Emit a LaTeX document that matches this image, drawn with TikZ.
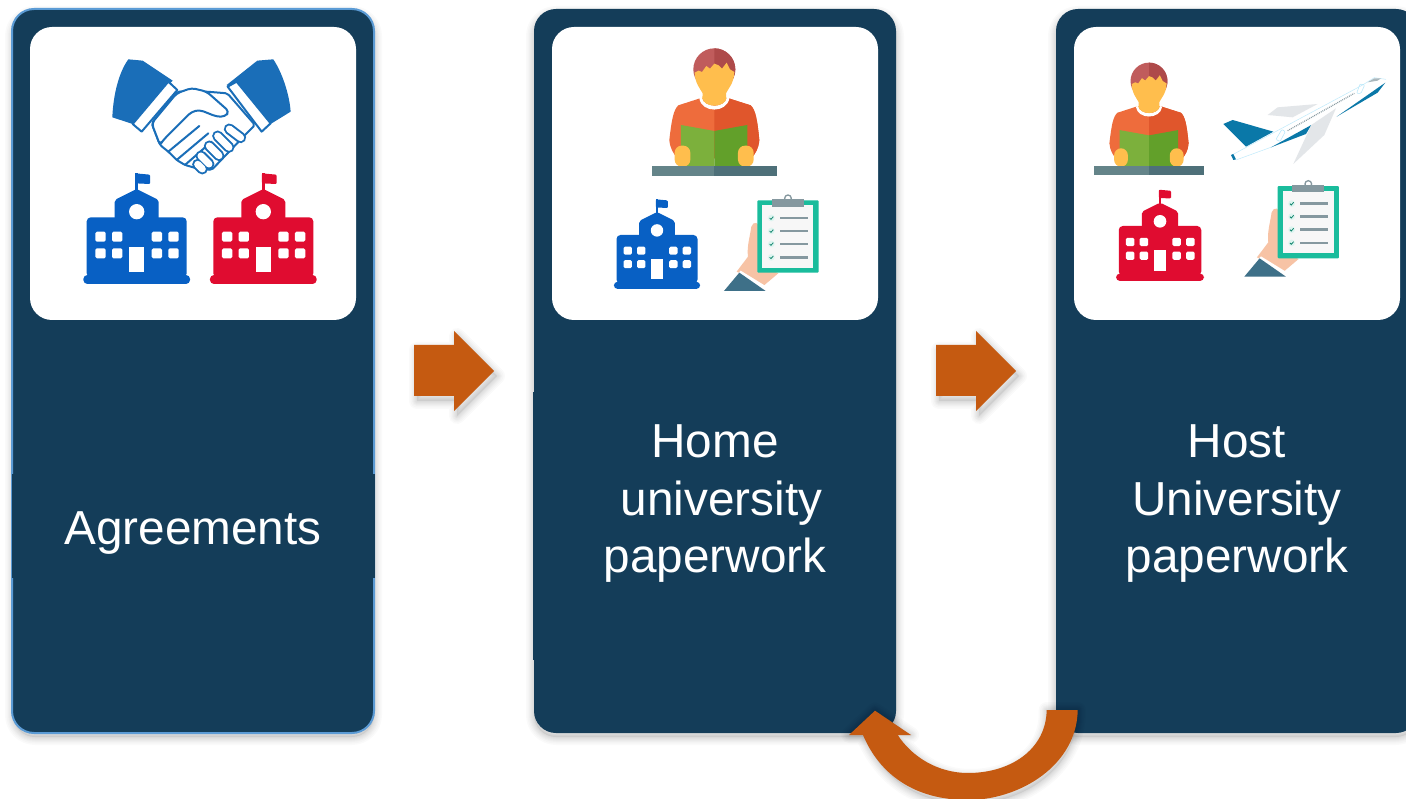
\documentclass[tikz,border=0pt]{standalone}
\usepackage{fontspec}
\setmainfont{Liberation Sans}
\definecolor{navy}{HTML}{143D59}
\definecolor{rust}{HTML}{C55A11}
\definecolor{edge}{HTML}{5B9BD5}
\definecolor{shakeblue}{HTML}{1A6EB8}
\definecolor{schoolblue}{HTML}{0860C4}
\definecolor{schoolred}{HTML}{E00C30}
\definecolor{hairA}{HTML}{C05C5C}
\definecolor{hairB}{HTML}{AE4A4A}
\definecolor{skin}{HTML}{FFBE4D}
\definecolor{shirtA}{HTML}{EE6C3C}
\definecolor{shirtB}{HTML}{E0562C}
\definecolor{bookA}{HTML}{7CB03C}
\definecolor{bookB}{HTML}{62A02A}
\definecolor{deskA}{HTML}{648489}
\definecolor{deskB}{HTML}{4E7079}
\definecolor{teal}{HTML}{1ABC9C}
\definecolor{slate}{HTML}{85989F}
\definecolor{peach}{HTML}{F7C3A5}
\definecolor{sleeve}{HTML}{3E7088}
\definecolor{planeblue}{HTML}{0A78A8}
\definecolor{wing}{HTML}{E3E6E9}
% soft shadow: #1 offset, #2 opacity per layer, #3 path
\newcommand{\softshadow}[3]{%
  \begin{scope}[shift={#1}]
  \fill[black,fill opacity=.06] #3;
  \foreach \w in {16,13,10,8,6,4,2}{%
    \draw[black,draw opacity=#2,line width=\w pt,line join=round] #3;}
  \end{scope}}
\tikzset{
  x=1pt,y=-1pt,
  card/.style={rectangle,rounded corners=22pt,fill=navy,minimum width=362pt,minimum height=724pt,inner sep=0pt},
  panel/.style={rectangle,rounded corners=22pt,fill=white,minimum width=326pt,minimum height=293pt,inner sep=0pt},
  textband/.style={rectangle,fill=navy,inner sep=0pt,minimum width=363pt},
  textlabel/.style={text=white,inner sep=0pt,align=center,font=\fontsize{47.7pt}{57.5pt}\selectfont},
  pics/school/.style={code={
    \fill[#1,rounded corners=4pt] (-150,-20) -- (-150,-200) -- (150,-200) -- (150,-20) -- cycle;
    \fill[#1,rounded corners=2pt] (-66,-190) -- (-66,-252) -- (0,-285) -- (66,-252) -- (66,-190) -- cycle;
    \fill[#1,rounded corners=4pt] (-160,-27) rectangle (160,0);
    \fill[#1] (-4,-275) rectangle (4,-332);
    \fill[#1,rounded corners=1pt] (-4,-332) -- (40,-328) -- (40,-300) -- (-4,-302) -- cycle;
    \fill[white] (0,-217) circle (23);
    \foreach \wx in {-124,-74,45,95}{\foreach \wy in {-157,-107}{
      \fill[white,rounded corners=1.5pt] (\wx,\wy) rectangle ++(31,30);}}
    \fill[white] (-22,-112) rectangle (22,-37);
  }},
  pics/reader/.style={code={
    \fill[hairA] (373,118) circle (63);
    \begin{scope}\clip (373,40) rectangle (450,200); \fill[hairB] (373,118) circle (63);\end{scope}
    \fill[skin] (314,128) -- (326,122) -- (336,126) -- (349,108) -- (360,116) -- (373,101) -- (386,106) -- (396,116) -- (410,98) -- (420,118) -- (433,126)
      .. controls (432,160) and (415,175) .. (408,190) -- (410,225) -- (336,225) -- (338,190) .. controls (330,175) and (315,160) .. (314,128) -- cycle;
    \fill[shirtA] (330,205) -- (265,226) .. controls (250,240) and (245,270) .. (238,330) .. controls (240,355) and (250,370) .. (262,385) -- (484,385)
      .. controls (497,370) and (506,355) .. (508,330) .. controls (502,270) and (497,240) .. (482,226) -- (416,205) -- cycle;
    \begin{scope}\clip (373,190) rectangle (520,400);
      \fill[shirtB] (330,205) -- (265,226) -- (238,330) -- (262,385) -- (484,385)
      .. controls (497,370) and (506,355) .. (508,330) .. controls (502,270) and (497,240) .. (482,226) -- (416,205) -- cycle;
    \end{scope}
    \fill[white] (328,205) .. controls (335,250) and (411,250) .. (418,205) -- (410,203) .. controls (405,235) and (342,235) .. (336,203) -- cycle;
    \fill[skin] (336,203) .. controls (342,235) and (405,235) .. (410,203) -- cycle;
    \fill[bookA] (273,285) -- (373,303) -- (373,408) -- (273,408) -- cycle;
    \fill[bookB] (472,285) -- (373,303) -- (373,408) -- (472,408) -- cycle;
    \fill[skin,rounded corners=7pt] (254,347) rectangle (301,410);
    \fill[skin,rounded corners=7pt] (444,347) rectangle (491,410);
    \fill[deskA] (185,408) rectangle (373,438);
    \fill[deskB] (373,408) rectangle (560,438);
  }},
  pics/clipboard/.style={code={
    \fill[peach] (484,590) .. controls (490,572) and (510,575) .. (508,600) -- (505,700) -- (565,730) -- (520,768) -- (440,725) -- (474,680) .. controls (470,650) and (480,620) .. (484,590) -- cycle;
    \fill[white] (452,722) -- (530,770) -- (527,783) -- (440,735) -- cycle;
    \fill[sleeve] (402,783) -- (448,728) -- (527,783) -- cycle;
    \fill[teal,rounded corners=1pt] (502,511) rectangle (686,728);
    \fill[black!3] (517,525) rectangle (670,713);
    \draw[slate,line width=1.3pt] (594,505) circle (10);
    \fill[slate] (546,508) rectangle (642,530);
    \foreach \cy in {564,603,642,682}{
      \fill[teal!15] (544,\cy) circle (10);
      \draw[teal!70!black,line width=.8pt] (539,\cy) -- (543,\cy+4) -- (550,\cy-4);
      \fill[slate] (570,\cy-4) rectangle (654,\cy+4);}
  }},
  pics/plane/.style={code={
    \fill[wing] (575,255) -- (605,232) -- (725,222) -- (650,262) -- cycle;
    \fill[planeblue] (442,282) -- (470,270) -- (592,305) -- (510,350) -- cycle;
    \fill[white] (468,375) -- (860,165) -- (895,143) -- (930,148) -- (920,172) -- (780,258) -- (480,390) -- cycle;
    \draw[cyan!25,line width=.5pt] (468,375) -- (860,165) -- (895,143) -- (930,148);
    \draw[cyan!25,line width=.5pt] (480,390) -- (590,350);
    \fill[planeblue] (585,352) -- (706,285) -- (690,312) -- cycle;
    \fill[planeblue] (782,260) -- (928,158) -- (905,188) -- cycle;
    \fill[wing] (780,235) -- (706,285) -- (652,402) -- (745,315) -- cycle;
    \fill[planeblue] (465,375) -- (472,372) -- (480,388) -- (472,390) -- cycle;
    \fill[slate!70] (875,157) -- (895,145) -- (915,145) -- (905,152) -- cycle;
    \draw[slate,line width=1.2pt,dash pattern=on .9pt off 1pt] (635,302) -- (835,190);
    \draw[cyan!30,line width=.5pt,rounded corners=1pt] (600,328) -- (618,298) -- (628,305) -- (612,335) -- cycle;
    \draw[cyan!30,line width=.5pt,rounded corners=1pt] (842,190) -- (852,162) -- (866,165) -- (855,190) -- cycle;
  }},
  hs/.style={draw=shakeblue,fill=white,line width=2pt,line join=round},
  pics/handshake/.style={code={
    \fill[shakeblue] (205,88) -- (248,92) -- (338,152) -- (218,282) -- (157,262) .. controls (160,190) and (178,125) .. (205,88) -- cycle;
    \fill[shakeblue] (592,92) -- (640,88) .. controls (665,125) and (688,190) .. (692,245) -- (632,282) -- (500,165) -- cycle;
    % whole clasp
    \draw[hs,rounded corners=2pt] (352,185) -- (440,185) -- (502,190) -- (585,285) -- (560,310) -- (455,420) -- (410,415) -- (375,405) -- (350,390) -- (325,365) -- (300,345) -- (275,280) -- cycle;
    % long fingers
    \draw[shakeblue,line width=2pt,line cap=round] (325,365) -- (418,288) (350,390) -- (445,310) (375,405) -- (455,335);
    % short fingers
    \draw[shakeblue,line width=11pt,line cap=round] (508,297) -- (542,323) (473,318) -- (507,352) (448,348) -- (477,377) (423,378) -- (447,402) (413,403) -- (427,417);
    \draw[white,line width=7pt,line cap=round] (508,297) -- (542,323) (473,318) -- (507,352) (448,348) -- (477,377) (423,378) -- (447,402) (413,403) -- (427,417);
    % upper hand
    \draw[hs,rounded corners=4pt] (350,190) -- (395,174) -- (440,185) -- (508,245) -- (495,260) -- (470,260) -- (420,240) -- (395,245) -- (310,330) -- (300,345) -- (275,280) -- cycle;
    \draw[hs] (218,282) -- (325,155) -- (352,180) -- (245,305) -- cycle;
    \draw[hs] (503,170) -- (530,155) -- (632,280) -- (605,305) -- cycle;
  }},
  pics/blockarrow/.style={code={
    \fill[rust] (0,-26) -- (40,-26) -- (40,-40) -- (80,0) -- (40,40) -- (40,25) -- (0,25) -- cycle;
  }},
}
\begin{document}
\begin{tikzpicture}
\useasboundingbox (0,0) rectangle (1406,799);
\clip (0,0) rectangle (1406,799);
\fill[white] (0,0) rectangle (1406,799);
% card shadows
\softshadow{(0,4)}{.02}{[rounded corners=22pt] (13,10) rectangle (374,733)}
\softshadow{(0,4)}{.02}{[rounded corners=22pt] (534,10) rectangle (896,733)}
\softshadow{(0,4)}{.02}{[rounded corners=22pt] (1056,10) rectangle (1418,733)}
% cards
\node[card,draw=edge,line width=2pt] (card1) at (193,371) {};
\node[card] (card2) at (715,371) {};
\node[card] (card3) at (1237,371) {};
% picture panels
\node[panel] (panel1) at (193,173.5) {};
\node[panel] (panel2) at (715,173.5) {};
\node[panel] (panel3) at (1237,173.5) {};
% text bands
\node[textband,minimum height=104pt] (band1) at (193,526) {};
\node[textband,minimum height=268pt] (band2) at (714.5,526) {};
\node[textband,minimum height=268pt] (band3) at (1237,526) {};
% labels
\node[textlabel] (text1) at (193,533) {Agreements};
\node[textlabel] (text2) at (715,504) {Home\\\hspace*{13pt}university\\paperwork};
\node[textlabel] (text3) at (1237,504) {Host\\University\\paperwork};
% icons
\pic (shake) at (60,30) [scale=.3333] {handshake};
\pic (schoolA) at (136.7,284) [scale=.3333] {school=schoolblue};
\pic (schoolB) at (263.3,284) [scale=.3333] {school=schoolred};
\pic (readerA) at (590,30) [scale=.3333] {reader};
\pic (schoolC) at (657,289) [scale=.27] {school=schoolblue};
\pic (clipA) at (590,30) [scale=.3333] {clipboard};
\pic (readerB) at (1039.6,46.5) [scale=.2933] {reader};
\pic (planeA) at (1076,30) [scale=.3333] {plane};
\pic (schoolD) at (1160,281) [scale=.275] {school=schoolred};
\pic (clipB) at (1110.3,15.7) [scale=.3333] {clipboard};
% flow arrows
\softshadow{(3,5)}{.018}{(414,345) -- (454,345) -- (454,331) -- (494,371) -- (454,411) -- (454,396) -- (414,396) -- cycle}
\softshadow{(3,5)}{.018}{(936,345) -- (976,345) -- (976,331) -- (1016,371) -- (976,411) -- (976,396) -- (936,396) -- cycle}
\pic (flowA) at (414,371) {blockarrow};
\pic (flowB) at (936,371) {blockarrow};
% return arrow
\coordinate (retStartO) at (1077.7,710);
\coordinate (retStartI) at (1046.7,710);
\coordinate (retTip) at (875,710.7);
\coordinate (retL) at (849,735);
\coordinate (retR) at (911,735);
\coordinate (retOut) at (863,735);
\coordinate (retIn) at (897.7,735);
\softshadow{(2,4)}{.018}{(retStartO) .. controls (1077,765) and (1020,800) .. (968,800) .. controls (915,800) and (880,775) .. (retOut) -- (retL) -- (retTip) -- (retR) -- (retIn) .. controls (912,757) and (938,773) .. (968,773) .. controls (1010,773) and (1046,750) .. (retStartI) -- cycle}
\fill[rust] (retStartO) .. controls (1077,765) and (1020,800) .. (968,800) .. controls (915,800) and (880,775) .. (retOut) -- (retL) -- (retTip) -- (retR) -- (retIn) .. controls (912,757) and (938,773) .. (968,773) .. controls (1010,773) and (1046,750) .. (retStartI) -- cycle;
\end{tikzpicture}
\end{document}
